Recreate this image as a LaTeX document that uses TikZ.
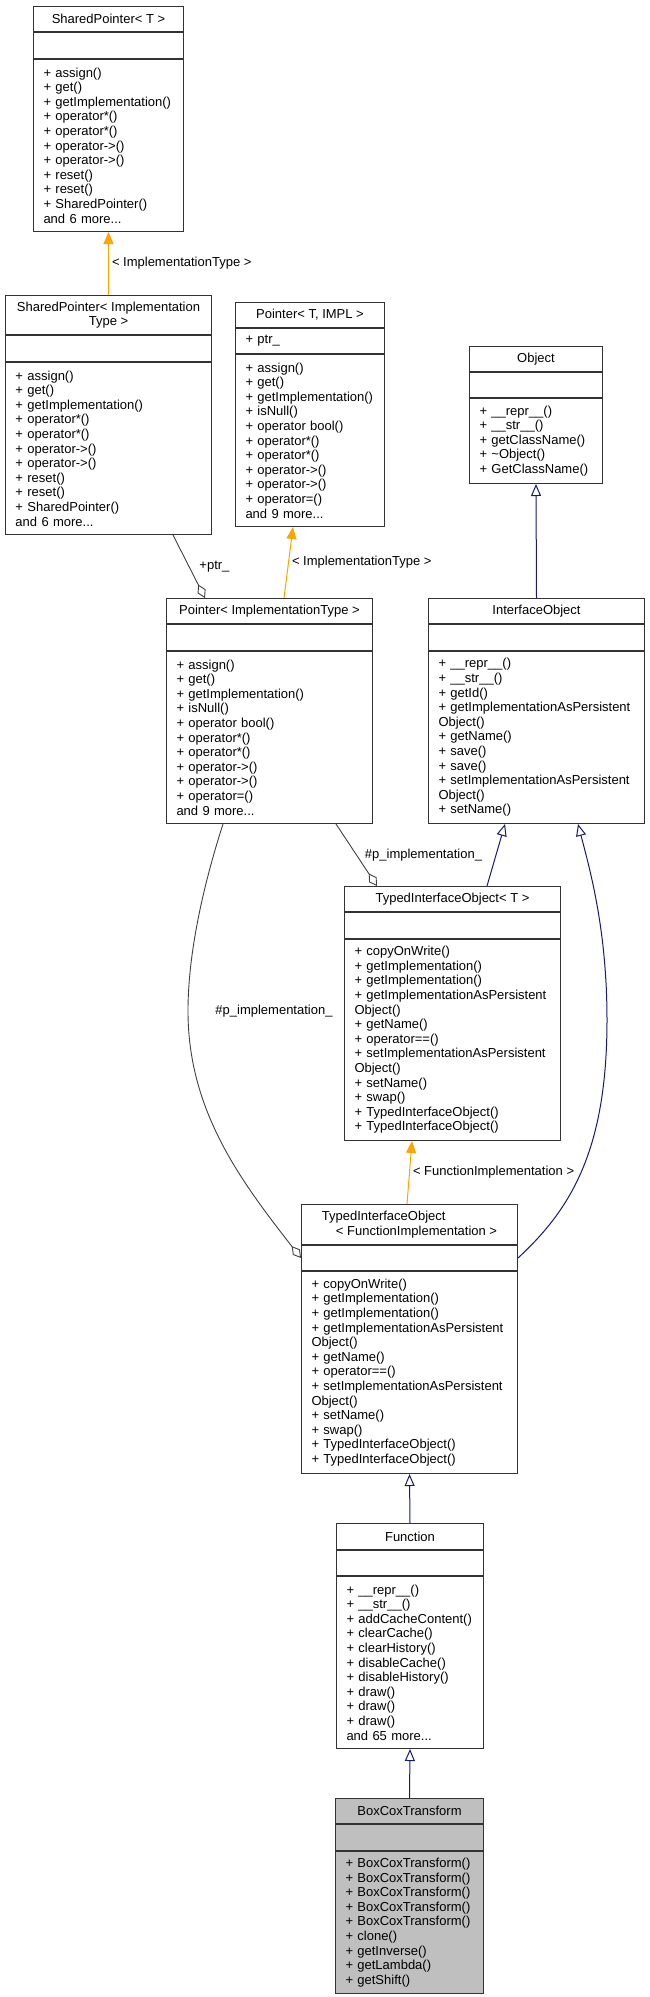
\documentclass[tikz,border=0pt]{standalone}
\usepackage{fontspec}
\setmainfont{Liberation Sans}
\usetikzlibrary{arrows.meta,calc}

\definecolor{edgegray}{HTML}{404040}
\definecolor{tmplorange}{HTML}{FFA500}
\definecolor{inhblue}{HTML}{191970}
\definecolor{focusgray}{HTML}{BFBFBF}

\tikzset{
  box/.style={draw=black!80, line width=1pt, fill=white, inner sep=0pt, font=\fontsize{13}{14.6}\selectfont},
  ctitle/.style={box, align=center, anchor=north west},
  cattr/.style={box, align=left, anchor=north, inner xsep=10pt},
  cmeth/.style={box, align=left, anchor=north, inner xsep=10pt},
  inherit/.style={draw=inhblue, line width=1pt, -{Triangle[open, length=12pt, width=10pt]}},
  tmpl/.style={draw=tmplorange, line width=1pt, -{Triangle[length=12pt, width=10pt]}},
  aggr/.style={draw=edgegray, line width=0.9pt, -{Diamond[open, length=15pt, width=9pt]}},
  elabel/.style={font=\fontsize{13}{14.6}\selectfont, text=black, inner sep=3pt},
}

\begin{document}
\begin{tikzpicture}[x=1pt, y=-1pt]
    \useasboundingbox (0,0) rectangle (649,1997);

    % SharedPointer< T >
    \node[ctitle, minimum width=150pt, minimum height=25pt] (spTt) at (33,6) {SharedPointer< T >};
    \node[cattr, text width=130pt, minimum height=26pt] (spTa) at (spTt.south) {};
    \node[cmeth, text width=130pt, minimum height=172pt] (spTm) at (spTa.south) {+ assign()\\+ get()\\+ getImplementation()\\+ operator*()\\+ operator*()\\+ operator->()\\+ operator->()\\+ reset()\\+ reset()\\+ SharedPointer()\\and 6 more...};

    % SharedPointer< ImplementationType >
    \node[ctitle, minimum width=206pt, minimum height=39pt] (spITt) at (5,295) {SharedPointer< Implementation\\Type >};
    \node[cattr, text width=186pt, minimum height=26pt] (spITa) at (spITt.south) {};
    \node[cmeth, text width=186pt, minimum height=172pt] (spITm) at (spITa.south) {+ assign()\\+ get()\\+ getImplementation()\\+ operator*()\\+ operator*()\\+ operator->()\\+ operator->()\\+ reset()\\+ reset()\\+ SharedPointer()\\and 6 more...};

    % Pointer< T, IMPL >
    \node[ctitle, minimum width=149pt, minimum height=25pt] (ptrTt) at (235,302) {Pointer< T, IMPL >};
    \node[cattr, text width=129pt, minimum height=25pt] (ptrTa) at (ptrTt.south) {+ ptr\_};
    \node[cmeth, text width=129pt, minimum height=172pt] (ptrTm) at (ptrTa.south) {+ assign()\\+ get()\\+ getImplementation()\\+ isNull()\\+ operator bool()\\+ operator*()\\+ operator*()\\+ operator->()\\+ operator->()\\+ operator=()\\and 9 more...};

    % Object
    \node[ctitle, minimum width=133pt, minimum height=25pt] (objt) at (469,346) {Object};
    \node[cattr, text width=113pt, minimum height=25pt] (obja) at (objt.south) {};
    \node[cmeth, text width=113pt, minimum height=85pt] (objm) at (obja.south) {+ \_\_repr\_\_()\\+ \_\_str\_\_()\\+ getClassName()\\+ \textasciitilde Object()\\+ GetClassName()};

    % Pointer< ImplementationType >
    \node[ctitle, minimum width=206pt, minimum height=25pt] (ptrITt) at (166,598) {Pointer< ImplementationType >};
    \node[cattr, text width=186pt, minimum height=26pt] (ptrITa) at (ptrITt.south) {};
    \node[cmeth, text width=186pt, minimum height=172pt] (ptrITm) at (ptrITa.south) {+ assign()\\+ get()\\+ getImplementation()\\+ isNull()\\+ operator bool()\\+ operator*()\\+ operator*()\\+ operator->()\\+ operator->()\\+ operator=()\\and 9 more...};

    % InterfaceObject
    \node[ctitle, minimum width=216pt, minimum height=25pt] (iobjt) at (428,598) {InterfaceObject};
    \node[cattr, text width=196pt, minimum height=26pt] (iobja) at (iobjt.south) {};
    \node[cmeth, text width=196pt, minimum height=172pt] (iobjm) at (iobja.south) {+ \_\_repr\_\_()\\+ \_\_str\_\_()\\+ getId()\\+ getImplementationAsPersistent\\Object()\\+ getName()\\+ save()\\+ save()\\+ setImplementationAsPersistent\\Object()\\+ setName()};

    % TypedInterfaceObject< T >
    \node[ctitle, minimum width=216pt, minimum height=25pt] (tioTt) at (344,886) {TypedInterfaceObject< T >};
    \node[cattr, text width=196pt, minimum height=26pt] (tioTa) at (tioTt.south) {};
    \node[cmeth, text width=196pt, minimum height=201pt] (tioTm) at (tioTa.south) {+ copyOnWrite()\\+ getImplementation()\\+ getImplementation()\\+ getImplementationAsPersistent\\Object()\\+ getName()\\+ operator==()\\+ setImplementationAsPersistent\\Object()\\+ setName()\\+ swap()\\+ TypedInterfaceObject()\\+ TypedInterfaceObject()};

    % TypedInterfaceObject< FunctionImplementation >
    \node[ctitle, align=left, inner xsep=12pt, minimum width=216pt, minimum height=40pt] (tioFt) at (301,1204) {TypedInterfaceObject\\\hspace*{14pt}< FunctionImplementation >};
    \node[cattr, text width=196pt, minimum height=25pt] (tioFa) at (tioFt.south) {};
    \node[cmeth, text width=196pt, minimum height=202pt] (tioFm) at (tioFa.south) {+ copyOnWrite()\\+ getImplementation()\\+ getImplementation()\\+ getImplementationAsPersistent\\Object()\\+ getName()\\+ operator==()\\+ setImplementationAsPersistent\\Object()\\+ setName()\\+ swap()\\+ TypedInterfaceObject()\\+ TypedInterfaceObject()};

    % Function
    \node[ctitle, minimum width=147pt, minimum height=26pt] (funct) at (336,1523) {Function};
    \node[cattr, text width=127pt, minimum height=25pt] (funca) at (funct.south) {};
    \node[cmeth, text width=127pt, minimum height=172pt] (funcm) at (funca.south) {+ \_\_repr\_\_()\\+ \_\_str\_\_()\\+ addCacheContent()\\+ clearCache()\\+ clearHistory()\\+ disableCache()\\+ disableHistory()\\+ draw()\\+ draw()\\+ draw()\\and 65 more...};

    % BoxCoxTransform
    \node[ctitle, fill=focusgray, minimum width=148pt, minimum height=25pt] (bctt) at (335,1798) {BoxCoxTransform};
    \node[cattr, fill=focusgray, text width=128pt, minimum height=26pt] (bcta) at (bctt.south) {};
    \node[cmeth, fill=focusgray, text width=128pt, minimum height=142pt] (bctm) at (bcta.south) {+ BoxCoxTransform()\\+ BoxCoxTransform()\\+ BoxCoxTransform()\\+ BoxCoxTransform()\\+ BoxCoxTransform()\\+ clone()\\+ getInverse()\\+ getLambda()\\+ getShift()};

    % template instances
    \draw[tmpl] (spITt.north) -- node[elabel, right] {< ImplementationType >} (spTm.south);
    \draw[tmpl] ($(ptrITt.north west)+(118,0)$) -- node[elabel, right] {< ImplementationType >} ($(ptrTm.south west)+(58,0)$);
    \draw[tmpl] ($(tioFt.north west)+(106,0)$) -- node[elabel, right] {< FunctionImplementation >} ($(tioTm.south west)+(68,0)$);

    % members
    \draw[aggr] ($(spITm.south west)+(168,0)$) -- node[elabel, right, xshift=7pt] {+ptr\_} ($(ptrITt.north west)+(39,0)$);
    \draw[aggr] ($(ptrITm.south west)+(170,0)$) -- node[elabel, right, xshift=5pt] {\#p\_implementation\_} ($(tioTt.north west)+(33,0)$);
    \draw[aggr] ($(ptrITm.south west)+(57,0)$) .. controls (205,880) and (188,950) .. (188,1011)
        node[elabel, right, xshift=24pt] {\#p\_implementation\_}
        .. controls (188,1110) and (240,1180) .. (tioFa.west);

    % inheritance
    \draw[inherit] (iobjt.north) -- (objm.south);
    \draw[inherit] ($(tioTt.north west)+(143,0)$) -- ($(iobjm.south west)+(77,0)$);
    \draw[inherit] (tioFa.east) .. controls +(53,-49) and (607,1150) .. (607,1020)
        .. controls (607,930) and (590,870) .. ($(iobjm.south west)+(150,0)$);
    \draw[inherit] (funct.north) -- (tioFm.south);
    \draw[inherit] (bctt.north) -- (funcm.south);
\end{tikzpicture}
\end{document}
